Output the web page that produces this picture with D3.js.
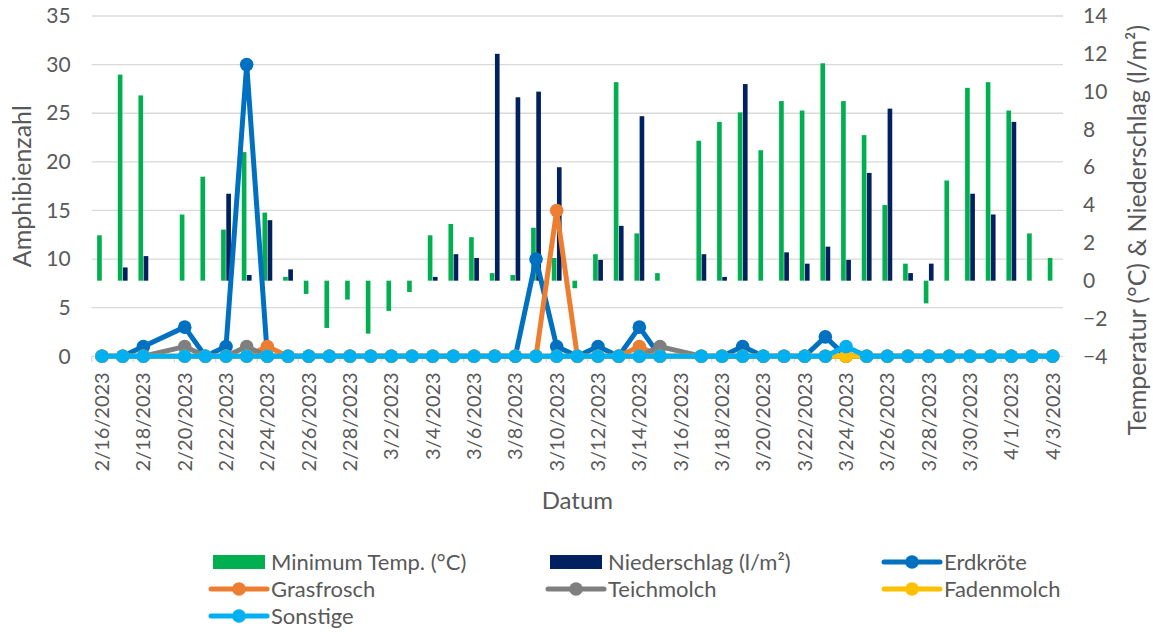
<!DOCTYPE html>
<html>
<head>
<meta charset="utf-8">
<script src="https://cdn.jsdelivr.net/npm/d3@7"></script>
<style>
  body { margin: 0; background: #fff; }
  svg { display: block; font-family: Lato, "Noto Sans", sans-serif; }
  .tick text { fill: #595959; }
</style>
</head>
<body>
<svg id="chart" width="1153" height="632"></svg>
<script>
// Datum (categories)
var dates = ["2/16/2023","2/17/2023","2/18/2023","2/19/2023","2/20/2023","2/21/2023","2/22/2023","2/23/2023",
  "2/24/2023","2/25/2023","2/26/2023","2/27/2023","2/28/2023","3/1/2023","3/2/2023","3/3/2023","3/4/2023",
  "3/5/2023","3/6/2023","3/7/2023","3/8/2023","3/9/2023","3/10/2023","3/11/2023","3/12/2023","3/13/2023",
  "3/14/2023","3/15/2023","3/16/2023","3/17/2023","3/18/2023","3/19/2023","3/20/2023","3/21/2023","3/22/2023",
  "3/23/2023","3/24/2023","3/25/2023","3/26/2023","3/27/2023","3/28/2023","3/29/2023","3/30/2023","3/31/2023",
  "4/1/2023","4/2/2023","4/3/2023"];

// right axis series (null = no data that day)
var minTemp = [2.4,10.9,9.8,null,3.5,5.5,2.7,6.8,3.6,0.2,-0.7,-2.5,-1.0,-2.8,-1.6,-0.6,2.4,3.0,2.3,0.4,0.3,2.8,1.2,-0.4,
  1.4,10.5,2.5,0.4,null,7.4,8.4,8.9,6.9,9.5,9.0,11.5,9.5,7.7,4.0,0.9,-1.2,5.3,10.2,10.5,9.0,2.5,1.2];
var niederschlag = [0,0.7,1.3,null,0,0,4.6,0.3,3.2,0.6,0,0,0,0,0,0,0.2,1.4,1.2,12.0,9.7,10.0,6.0,0,
  1.1,2.9,8.7,0,null,1.4,0.2,10.4,0,1.5,0.9,1.8,1.1,5.7,9.1,0.4,0.9,0,4.6,3.5,8.4,0,0];

// left axis series (counts)
var erdkroete = [0,0,1,null,3,0,1,30,0,0,0,0,0,0,0,0,0,0,0,0,0,10,1,0,1,0,3,0,null,0,0,1,0,0,0,2,0,0,0,0,0,0,0,0,0,0,0];
var grasfrosch = [0,0,0,null,0,0,0,0,1,0,0,0,0,0,0,0,0,0,0,0,0,0,15,0,0,0,1,0,null,0,0,0,0,0,0,0,0,0,0,0,0,0,0,0,0,0,0];
var teichmolch = [0,0,0,null,1,0,0,1,0,0,0,0,0,0,0,0,0,0,0,0,0,0,0,0,0,0,0,1,null,0,0,0,0,0,0,0,0,0,0,0,0,0,0,0,0,0,0];
var fadenmolch = [0,0,0,null,0,0,0,0,0,0,0,0,0,0,0,0,0,0,0,0,0,0,0,0,0,0,0,0,null,0,0,0,0,0,0,0,0,0,0,0,0,0,0,0,0,0,0];
var sonstige = [0,0,0,null,0,0,0,0,0,0,0,0,0,0,0,0,0,0,0,0,0,0,0,0,0,0,0,0,null,0,0,0,0,0,0,0,1,0,0,0,0,0,0,0,0,0,0];

var leftTicks = [0,5,10,15,20,25,30,35];
var rightTicks = [-4,-2,0,2,4,6,8,10,12,14];

var barSeries = [
  { name: "Minimum Temp. (°C)", values: minTemp, color: "#00B050" },
  { name: "Niederschlag (l/m²)", values: niederschlag, color: "#002060" }
];
var lineSeries = [
  { name: "Erdkröte", values: erdkroete, color: "#0070C0" },
  { name: "Grasfrosch", values: grasfrosch, color: "#ED7D31" },
  { name: "Teichmolch", values: teichmolch, color: "#7F7F7F" },
  { name: "Fadenmolch", values: fadenmolch, color: "#FFC000" },
  { name: "Sonstige", values: sonstige, color: "#00B0F0" }
];

var svg = d3.select("#chart");
var plotL = 91.7, plotR = 1063, plotT = 16, plotB = 356.3;

var x = d3.scaleBand().domain(dates).range([plotL, plotR]).padding(0);
var xSub = d3.scaleBand().domain([0, 1]).range([0, x.bandwidth()]).paddingInner(0.1).paddingOuter(1.05);
var yL = d3.scaleLinear().domain([0, 35]).range([plotB, plotT]);
var yR = d3.scaleLinear().domain([-4, 14]).range([plotB, plotT]);

// gridlines
svg.append("g").selectAll("line")
  .data(leftTicks)
  .enter().append("line")
  .attr("x1", plotL).attr("x2", plotR)
  .attr("y1", function (d) { return yL(d); })
  .attr("y2", function (d) { return yL(d); })
  .attr("stroke", "#d9d9d9")
  .attr("stroke-width", 1.3);

// category tick marks every 2 days
svg.append("g").selectAll("line")
  .data(d3.range(0, dates.length + 1, 2))
  .enter().append("line")
  .attr("x1", function (k) { return plotL + k * x.step(); })
  .attr("x2", function (k) { return plotL + k * x.step(); })
  .attr("y1", plotB).attr("y2", plotB + 6)
  .attr("stroke", "#d9d9d9")
  .attr("stroke-width", 1.3);

// bars
barSeries.forEach(function (s, si) {
  svg.append("g").selectAll("rect")
    .data(s.values.map(function (v, i) { return { i: i, v: v }; }).filter(function (d) { return d.v != null && d.v !== 0; }))
    .enter().append("rect")
    .attr("x", function (d) { return x(dates[d.i]) + xSub(si); })
    .attr("width", xSub.bandwidth())
    .attr("y", function (d) { return yR(Math.max(0, d.v)); })
    .attr("height", function (d) { return Math.abs(yR(d.v) - yR(0)); })
    .attr("fill", s.color);
});

// lines (gaps on missing days are bridged)
var cx = function (d) { return x(dates[d.i]) + x.bandwidth() / 2; };
var line = d3.line().x(cx).y(function (d) { return yL(d.v); });
lineSeries.forEach(function (s) {
  var pts = s.values.map(function (v, i) { return { i: i, v: v }; }).filter(function (d) { return d.v != null; });
  var g = svg.append("g");
  g.append("path").datum(pts)
    .attr("d", line)
    .attr("fill", "none")
    .attr("stroke", s.color)
    .attr("stroke-width", 5)
    .attr("stroke-linejoin", "round");
  g.selectAll("circle").data(pts).enter().append("circle")
    .attr("cx", cx)
    .attr("cy", function (d) { return yL(d.v); })
    .attr("r", 6.8)
    .attr("fill", s.color);
});

// left axis
var axL = svg.append("g").attr("transform", "translate(" + (plotL - 21) + ",0)")
  .call(d3.axisLeft(yL).tickValues(leftTicks).tickSize(0).tickPadding(0));
axL.select(".domain").remove();
axL.selectAll("text").attr("font-size", 21).attr("font-family", "Lato");

// right axis
var axR = svg.append("g").attr("transform", "translate(" + (plotR + 20) + ",0)")
  .call(d3.axisRight(yR).tickValues(rightTicks).tickSize(0).tickPadding(0));
axR.select(".domain").remove();
axR.selectAll("text").attr("font-size", 21).attr("font-family", "Lato");

// bottom labels
var axB = svg.append("g").attr("transform", "translate(0," + (plotB + 16) + ")")
  .call(d3.axisBottom(x).tickValues(dates.filter(function (d, i) { return i % 2 === 0; })).tickSize(0).tickPadding(0));
axB.select(".domain").remove();
axB.selectAll("text")
  .attr("font-size", 20).attr("font-family", "Lato")
  .attr("transform", "rotate(-90)")
  .attr("text-anchor", "end")
  .attr("x", 0).attr("y", 0).attr("dy", "0.35em");

// axis titles
svg.append("text").text("Amphibienzahl")
  .attr("transform", "translate(31," + ((plotT + plotB) / 2) + ") rotate(-90)")
  .attr("text-anchor", "middle").attr("font-size", 25).attr("fill", "#595959");
svg.append("text").text("Temperatur (°C) & Niederschlag (l/m²)")
  .attr("transform", "translate(1146,230) rotate(-90)")
  .attr("text-anchor", "middle").attr("font-size", 25).attr("fill", "#595959");
svg.append("text").text("Datum")
  .attr("x", (plotL + plotR) / 2).attr("y", 509)
  .attr("text-anchor", "middle").attr("font-size", 24).attr("fill", "#595959");

// legend
var legendItems = [
  { s: barSeries[0], type: "bar", col: 0, row: 0 },
  { s: barSeries[1], type: "bar", col: 1, row: 0 },
  { s: lineSeries[0], type: "line", col: 2, row: 0 },
  { s: lineSeries[1], type: "line", col: 0, row: 1 },
  { s: lineSeries[2], type: "line", col: 1, row: 1 },
  { s: lineSeries[3], type: "line", col: 2, row: 1 },
  { s: lineSeries[4], type: "line", col: 0, row: 2 }
];
var colX = [211, 548, 884];
var rowY = [562, 589, 616];
legendItems.forEach(function (it) {
  var g = svg.append("g").attr("transform", "translate(" + colX[it.col] + "," + rowY[it.row] + ")");
  if (it.type === "bar") {
    g.append("rect").attr("x", 2).attr("y", -7).attr("width", 52).attr("height", 14).attr("fill", it.s.color);
  } else {
    g.append("line").attr("x1", 0).attr("x2", 56).attr("y1", 0).attr("y2", 0)
      .attr("stroke", it.s.color).attr("stroke-width", 5).attr("stroke-linecap", "round");
    g.append("circle").attr("cx", 28).attr("cy", 0).attr("r", 6.8).attr("fill", it.s.color);
  }
  g.append("text").text(it.s.name)
    .attr("x", 60).attr("dy", "0.35em")
    .attr("font-size", 22).attr("fill", "#595959");
});
</script>
</body>
</html>
